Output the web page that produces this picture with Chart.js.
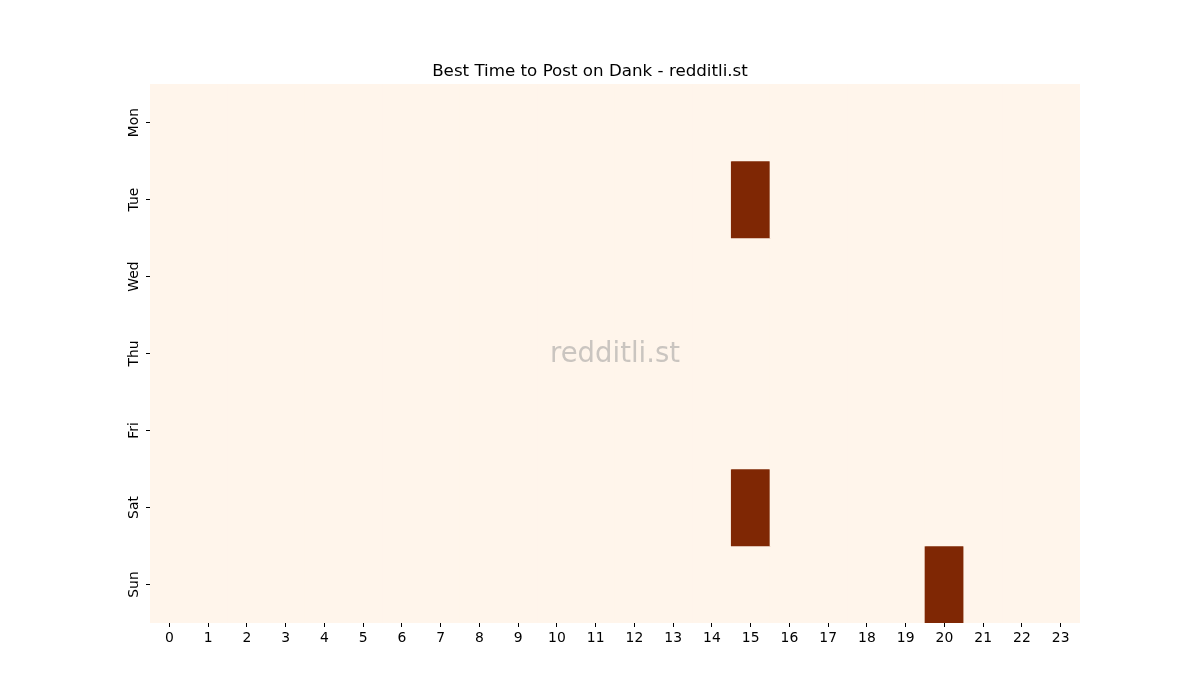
<!DOCTYPE html>
<html>
<head>
<meta charset="utf-8">
<script src="https://cdn.jsdelivr.net/npm/chart.js@4/dist/chart.umd.min.js"></script>
<style>
    html, body { margin: 0; padding: 0; background: #fff; }
    #wrap { width: 1200px; height: 700px; }
</style>
</head>
<body>
<div id="wrap"><canvas id="chart-heat"></canvas></div>
<script>
'use strict';

const hours = ['0', '1', '2', '3', '4', '5', '6', '7', '8', '9', '10', '11',
    '12', '13', '14', '15', '16', '17', '18', '19', '20', '21', '22', '23'];
const days = ['Mon', 'Tue', 'Wed', 'Thu', 'Fri', 'Sat', 'Sun'];

// one row of the heatmap per day, one value per hour
const mon = [0, 0, 0, 0, 0, 0, 0, 0, 0, 0, 0, 0, 0, 0, 0, 0, 0, 0, 0, 0, 0, 0, 0, 0];
const tue = [0, 0, 0, 0, 0, 0, 0, 0, 0, 0, 0, 0, 0, 0, 0, 1, 0, 0, 0, 0, 0, 0, 0, 0];
const wed = [0, 0, 0, 0, 0, 0, 0, 0, 0, 0, 0, 0, 0, 0, 0, 0, 0, 0, 0, 0, 0, 0, 0, 0];
const thu = [0, 0, 0, 0, 0, 0, 0, 0, 0, 0, 0, 0, 0, 0, 0, 0, 0, 0, 0, 0, 0, 0, 0, 0];
const fri = [0, 0, 0, 0, 0, 0, 0, 0, 0, 0, 0, 0, 0, 0, 0, 0, 0, 0, 0, 0, 0, 0, 0, 0];
const sat = [0, 0, 0, 0, 0, 0, 0, 0, 0, 0, 0, 0, 0, 0, 0, 1, 0, 0, 0, 0, 0, 0, 0, 0];
const sun = [0, 0, 0, 0, 0, 0, 0, 0, 0, 0, 0, 0, 0, 0, 0, 0, 0, 0, 0, 0, 1, 0, 0, 0];

const rows = [mon, tue, wed, thu, fri, sat, sun];

/**
 * Oranges colour map, only its two ends are needed here
 */
function cellColor(v, lo, hi) {
    const t = hi > lo ? (v - lo) / (hi - lo) : 0;
    const a = [255, 245, 235];
    const b = [127, 39, 4];
    const c = a.map((x, i) => Math.round(x + (b[i] - x) * t));
    return `rgb(${c[0]}, ${c[1]}, ${c[2]})`;
}

const all = rows.flat();
const lo = Math.min(...all);
const hi = Math.max(...all);

// each day is a stacked bar of height 1, coloured per cell
const datasets = rows.map((row, idx) => ({
    label: days[idx],
    data: row.map(() => 1),
    backgroundColor: row.map(v => cellColor(v, lo, hi)),
    borderWidth: 0,
    barPercentage: 1,
    categoryPercentage: 1
}));

const watermark = {
    id: 'watermark',
    afterDatasetsDraw(chart) {
        const {ctx, chartArea} = chart;
        ctx.save();
        ctx.font = '27.5px "DejaVu Sans"';
        ctx.fillStyle = 'rgba(150, 150, 150, 0.5)';
        ctx.textAlign = 'center';
        ctx.textBaseline = 'middle';
        ctx.fillText('redditli.st', (chartArea.left + chartArea.right) / 2,
            (chartArea.top + chartArea.bottom) / 2 + 1);
        ctx.restore();
    }
};

const canvas = document.getElementById('chart-heat');

new Chart(canvas.getContext('2d'), {
    type: 'bar',
    data: {labels: hours, datasets: datasets},
    plugins: [watermark],
    options: {
        responsive: true,
        maintainAspectRatio: false,
        animation: false,
        layout: {padding: {top: 62, left: 100, right: 120, bottom: 47}},
        plugins: {
            legend: {display: false},
            tooltip: {enabled: false},
            title: {
                display: true,
                text: 'Best Time to Post on Dank - redditli.st',
                color: '#000',
                font: {family: 'DejaVu Sans', size: 16.7, weight: 'normal', lineHeight: 1.2},
                padding: {top: 0, bottom: 2}
            }
        },
        scales: {
            x: {
                stacked: true,
                offset: true,
                border: {display: false},
                grid: {drawOnChartArea: false, offset: false, tickLength: 4,
                    tickColor: '#000', tickWidth: 1},
                ticks: {color: '#000', font: {family: 'DejaVu Sans', size: 13.9}, padding: 3,
                    maxRotation: 0, autoSkip: false},
                afterFit: scale => { scale.height = 30; }
            },
            y: {
                stacked: true,
                reverse: true,
                min: 0,
                max: 7,
                border: {display: false},
                grid: {drawOnChartArea: false, tickLength: 4, tickColor: '#000', tickWidth: 1},
                ticks: {
                    color: '#000',
                    font: {family: 'DejaVu Sans', size: 13.9},
                    padding: -4,
                    minRotation: 90,
                    maxRotation: 90,
                    crossAlign: 'center',
                    callback: (value, idx) => days[idx]
                },
                afterBuildTicks: scale => {
                    scale.ticks = days.map((d, i) => ({value: i + 0.5}));
                },
                afterFit: scale => { scale.width = 50; }
            }
        }
    }
});
</script>
</body>
</html>
